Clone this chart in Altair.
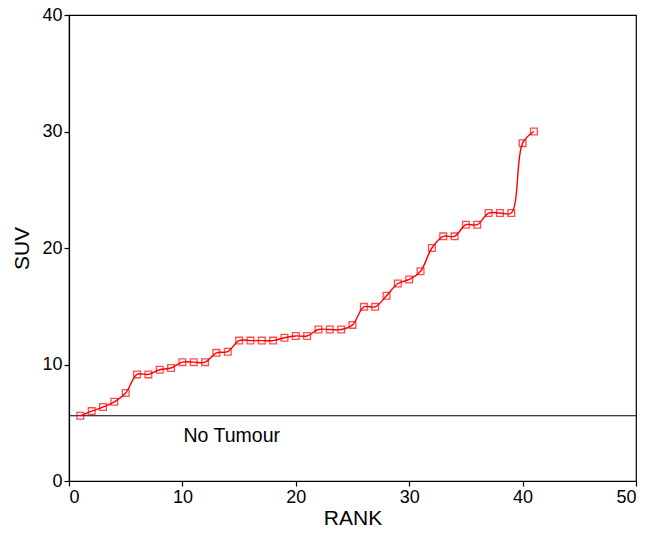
import altair as alt
import pandas as pd

rank = list(range(1, 42))
suv = [5.6, 6.0, 6.35, 6.8, 7.55, 9.15, 9.15, 9.55, 9.7, 10.2,
       10.2, 10.2, 11.0, 11.1, 12.05, 12.05, 12.05, 12.05, 12.3, 12.45,
       12.45, 13.0, 13.0, 13.0, 13.4, 14.95, 14.95, 15.9, 16.95, 17.3,
       18.0, 20.0, 21.0, 21.0, 22.0, 22.0, 23.0, 23.0, 23.0, 29.0, 30.0]
threshold = [5.6]
label_text = ["No Tumour"]
label_pos = [(10.1, 3.9)]

df = pd.DataFrame({"RANK": rank, "SUV": suv})
thr = pd.DataFrame({"y": threshold})
lab = pd.DataFrame({"x": [label_pos[0][0]], "y": [label_pos[0][1]], "t": label_text})

FONT = "Liberation Sans"
xs = alt.Scale(domain=[0, 50], nice=False)
ys = alt.Scale(domain=[0, 40], nice=False)

base_x = alt.X("RANK:Q", scale=xs, title="RANK",
               axis=alt.Axis(values=[0, 10, 20, 30, 40, 50], grid=False))
base_y = alt.Y("SUV:Q", scale=ys, title="SUV",
               axis=alt.Axis(values=[0, 10, 20, 30, 40], grid=False))

line = alt.Chart(df).mark_line(color="#ff0000", strokeWidth=1.4,
                               interpolate="catmull-rom").encode(x=base_x, y=base_y)
pts = alt.Chart(df).mark_point(shape="square", color="#ff0000", filled=False,
                               size=45, strokeWidth=1.3).encode(x=base_x, y=base_y)
rule = alt.Chart(thr).mark_rule(color="black", strokeWidth=1.2).encode(y=alt.Y("y:Q", scale=ys))
text = alt.Chart(lab).mark_text(align="left", baseline="middle", fontSize=19.5,
                                font=FONT, color="black").encode(
    x=alt.X("x:Q", scale=xs), y=alt.Y("y:Q", scale=ys), text="t:N")

chart = alt.layer(rule, line, pts, text).properties(
    width=567, height=466,
    autosize=alt.AutoSizeParams(type="none"),
    padding={"left": 61, "top": 7, "right": 6, "bottom": 48},
).configure_view(stroke="black", strokeWidth=1.2).configure_axis(
    domainColor="black", domainWidth=1.2, tickColor="black", tickSize=5,
    tickWidth=1.2, labelFont=FONT, labelFontSize=18, labelColor="black",
    titleFont=FONT, titleFontSize=21, titleFontWeight="normal", titleColor="black",
    labelPadding=2,
).configure_axisY(titlePadding=9).configure_axisX(titlePadding=1)

chart.save("out.html", embed_options={"renderer": "svg", "actions": False})
